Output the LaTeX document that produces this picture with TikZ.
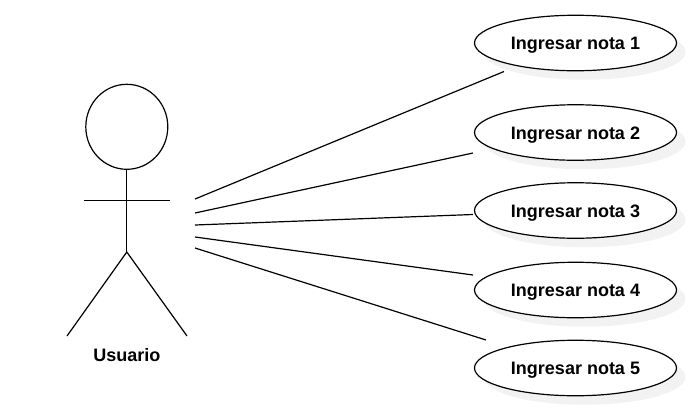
\documentclass[tikz,border=0pt]{standalone}
\usepackage{fontspec}
\setmainfont{Liberation Sans}
\usetikzlibrary{shapes.geometric}
\definecolor{shadowgrey}{HTML}{F2F2F2}
\tikzset{
  usecase/.style={ellipse,draw=black,fill=white,line width=1.2pt,minimum width=202pt,minimum height=55.5pt,inner sep=0pt,
    text height=13pt,text depth=0pt,
    font=\fontsize{18}{21}\selectfont\bfseries,
    preaction={draw=none,fill=shadowgrey,transform canvas={shift={(9pt,-9pt)}}}},
  actorline/.style={draw=black,line width=1.2pt},
  link/.style={draw=black,line width=1.2pt},
}
\begin{document}
\begin{tikzpicture}[x=1pt,y=-1pt]
\useasboundingbox (0,0) rectangle (700,407);
% use cases
\node[usecase] (n1) at (575.5,43) {Ingresar nota 1};
\node[usecase] (n2) at (575.5,132.5) {Ingresar nota 2};
\node[usecase] (n3) at (575.5,210.5) {Ingresar nota 3};
\node[usecase] (n4) at (575.5,290) {Ingresar nota 4};
\node[usecase] (n5) at (575.5,368) {Ingresar nota 5};
% actor
\node[ellipse,draw=black,fill=white,line width=1.2pt,minimum width=82pt,minimum height=85pt,inner sep=0pt] (head) at (126.8,126.8) {};
\coordinate (hip) at (126.8,252);
\coordinate (armL) at (83.5,200.4);
\coordinate (armR) at (170,200.4);
\coordinate (legL) at (67,336);
\coordinate (legR) at (187,336);
\draw[actorline] (head.south) -- (hip);
\draw[actorline] (armL) -- (armR);
\draw[actorline] (legL) -- (hip) -- (legR);
\node[font=\fontsize{18}{21}\selectfont\bfseries,inner sep=0pt] (actor) at (126.8,355) {Usuario};
% connectors
\coordinate (a1) at (195,199);
\coordinate (a2) at (195,213);
\coordinate (a3) at (195,225);
\coordinate (a4) at (195,237);
\coordinate (a5) at (195,248);
\coordinate (b1) at (504,71.5);
\coordinate (b2) at (473,153);
\coordinate (b3) at (473,214.5);
\coordinate (b4) at (473,275);
\coordinate (b5) at (486,340);
\draw[link] (a1) -- (b1);
\draw[link] (a2) -- (b2);
\draw[link] (a3) -- (b3);
\draw[link] (a4) -- (b4);
\draw[link] (a5) -- (b5);
\end{tikzpicture}
\end{document}
